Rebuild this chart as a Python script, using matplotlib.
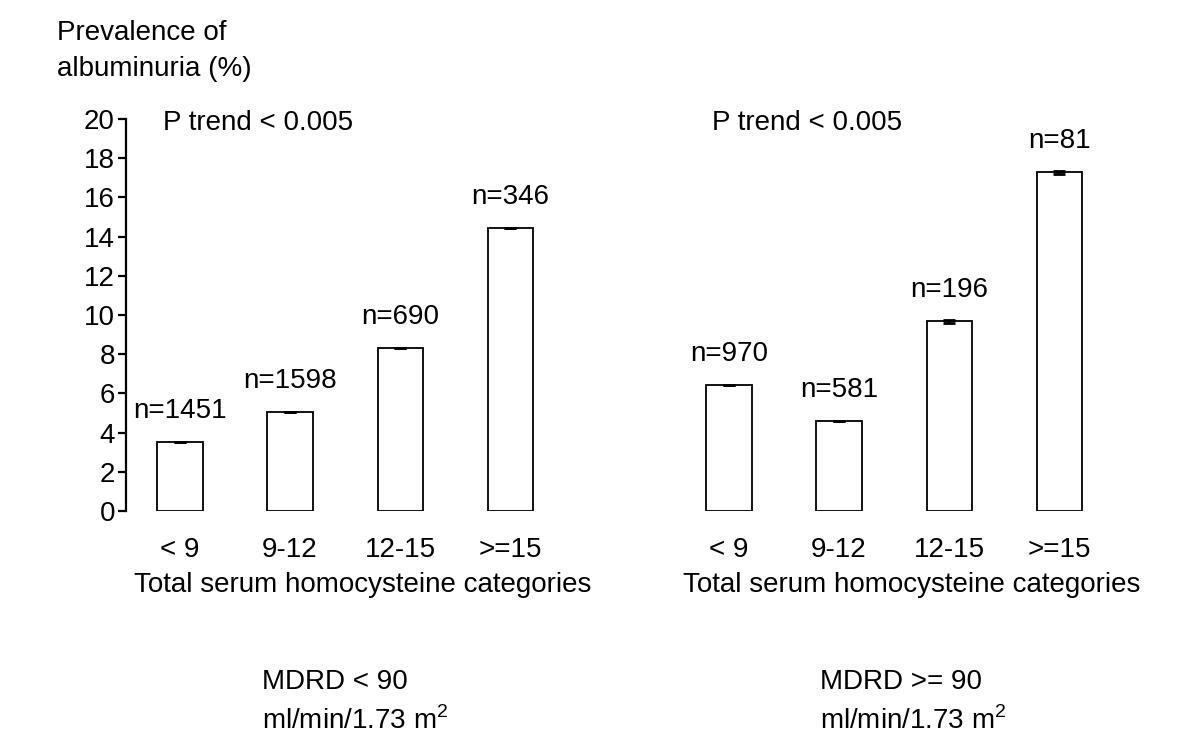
import matplotlib
matplotlib.use("Agg")
import matplotlib.pyplot as plt

plt.rcParams['font.family'] = ['Liberation Sans', 'DejaVu Sans']
plt.rcParams['mathtext.fontset'] = 'custom'
plt.rcParams['mathtext.rm'] = 'Liberation Sans'

categories = ["< 9", "9-12", "12-15", ">=15"]
left_values = [3.52, 5.05, 8.3, 14.42]
left_err = [0.0, 0.0, 0.0, 0.0]
left_n = ["n=1451", "n=1598", "n=690", "n=346"]
right_values = [6.43, 4.6, 9.67, 17.27]
right_err = [0.0, 0.0, 0.06, 0.06]
right_n = ["n=970", "n=581", "n=196", "n=81"]
yticks = list(range(0, 21, 2))
xlabel = "Total serum homocysteine categories"
ylabel = "Prevalence of\nalbuminuria (%)"
ptrend = "P trend < 0.005"
left_caption = "MDRD < 90\nml/min/1.73 m$^\\mathrm{2}$"
right_caption = "MDRD >= 90\nml/min/1.73 m$^\\mathrm{2}$"

FS = 20
fig = plt.figure(figsize=(12, 7.46), dpi=100)
axL = fig.add_axes([0.105, 0.315, 0.366, 0.5255])
axR = fig.add_axes([0.5625, 0.315, 0.366, 0.5255])

pos = list(range(len(categories)))
for ax, vals, errs, ns in [(axL, left_values, left_err, left_n),
                           (axR, right_values, right_err, right_n)]:
    ax.bar(pos, vals, width=0.41, color='white', edgecolor='black', linewidth=1.3,
           yerr=errs, error_kw=dict(ecolor='black', elinewidth=1.2, capsize=4, capthick=2))
    for x, v, n in zip(pos, vals, ns):
        ax.annotate(n, (x, v), xytext=(0, 13), textcoords='offset points',
                    ha='center', va='bottom', fontsize=FS)
    ax.set_xlim(-0.49, 3.5)
    ax.set_ylim(0, 20)
    ax.set_xticks(pos)
    ax.set_xticklabels(categories, fontsize=FS)
    ax.tick_params(axis='x', length=0, pad=19)
    ax.set_xlabel(xlabel, fontsize=FS)
    ax.xaxis.set_label_coords(0.539, -0.155)
    for s in ['top', 'right', 'bottom']:
        ax.spines[s].set_visible(False)
    ax.text(0.085, 0.99, ptrend, transform=ax.transAxes, fontsize=FS, ha='left', va='center')

axL.set_yticks(yticks)
axL.set_yticklabels([str(t) for t in yticks], fontsize=FS)
axL.spines['left'].set_linewidth(1.6)
axL.tick_params(axis='y', length=6, width=1.6, pad=2)

axR.spines['left'].set_visible(False)
axR.set_yticks([])

fig.text(57 / 1200, 1 - 51 / 746, ylabel, fontsize=FS, ha='left', va='center', linespacing=1.55)
fig.text(262 / 1200, 1 - 702 / 746, left_caption, fontsize=FS, ha='left', va='center', linespacing=1.5)
fig.text(820 / 1200, 1 - 702 / 746, right_caption, fontsize=FS, ha='left', va='center', linespacing=1.5)

fig.savefig("out.png", dpi=100)
